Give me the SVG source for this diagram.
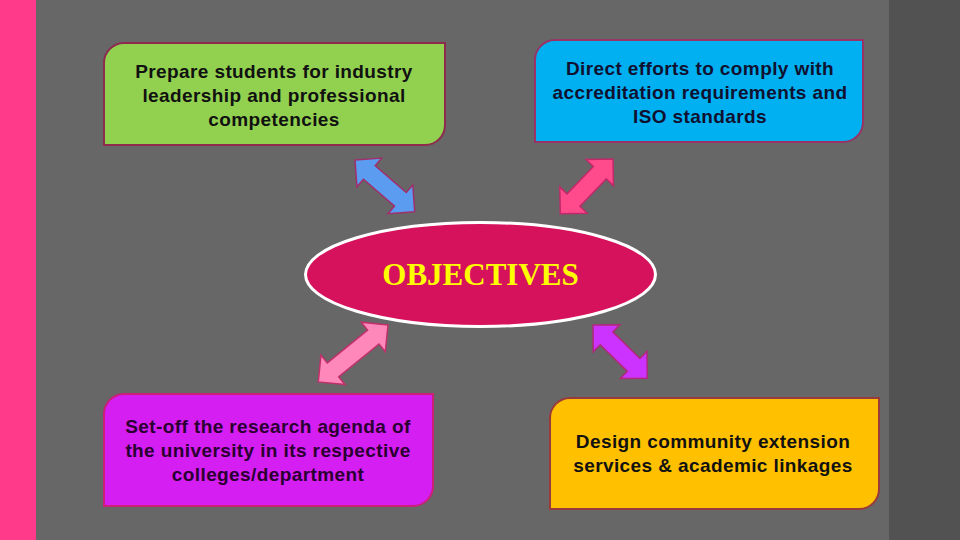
<svg xmlns="http://www.w3.org/2000/svg" width="960" height="540" viewBox="0 0 960 540">
<style>
.box{stroke-width:2}
.t{font-family:"Liberation Sans",Arial,sans-serif;font-weight:bold;font-size:19px;letter-spacing:0.4px;text-anchor:middle}
.arr{stroke-width:1.5;stroke-linejoin:miter}
</style>
<rect x="0" y="0" width="960" height="540" fill="#676767"/>
<rect x="0" y="0" width="36" height="540" fill="#ff3a8a"/>
<rect x="889" y="0" width="71" height="540" fill="#525252"/>

<g id="node-green">
<path class="box" d="M124,43 H445 V125 A20,20 0 0 1 425,145 H104 V63 A20,20 0 0 1 124,43 Z" fill="#92d050" stroke="#8e2a4e"/>
<text class="t" fill="#111" x="274" y="78">Prepare students for industry</text>
<text class="t" fill="#111" x="274" y="102">leadership and professional</text>
<text class="t" fill="#111" x="274" y="126">competencies</text>
</g>

<g id="node-blue">
<path class="box" d="M555,40 H863 V122 A20,20 0 0 1 843,142 H535 V60 A20,20 0 0 1 555,40 Z" fill="#00b0f0" stroke="#993366"/>
<text class="t" fill="#101030" x="700" y="75">Direct efforts to comply with</text>
<text class="t" fill="#101030" x="700" y="99">accreditation requirements and</text>
<text class="t" fill="#101030" x="700" y="123">ISO standards</text>
</g>

<g id="node-magenta">
<path class="box" d="M124,394 H433 V486 A20,20 0 0 1 413,506 H104 V414 A20,20 0 0 1 124,394 Z" fill="#d41ef2" stroke="#cc1f77"/>
<text class="t" fill="#2a0030" x="268" y="433">Set-off the research agenda of</text>
<text class="t" fill="#2a0030" x="268" y="457">the university in its respective</text>
<text class="t" fill="#2a0030" x="268" y="481">colleges/department</text>
</g>

<g id="node-yellow">
<path class="box" d="M570,398 H879 V489 A20,20 0 0 1 859,509 H550 V418 A20,20 0 0 1 570,398 Z" fill="#ffc000" stroke="#9a3a3a"/>
<text class="t" fill="#111" x="713" y="448">Design community extension</text>
<text class="t" fill="#111" x="713" y="472">services &amp; academic linkages</text>
</g>

<g id="node-objectives">
<ellipse cx="480.5" cy="274.5" rx="175" ry="52" fill="#d6125c" stroke="#ffffff" stroke-width="3"/>
<text x="480.5" y="285" font-family="'Liberation Serif','Times New Roman',serif" font-weight="bold" font-size="31" fill="#ffff00" text-anchor="middle">OBJECTIVES</text>
</g>

<g id="connectors">
<path class="arr" fill="#5b9bf0" stroke="#a0306a" transform="translate(355,160) rotate(40.9)" d="M0,0 L19,-19 L19,-9 L60,-9 L60,-19 L79,0 L60,19 L60,9 L19,9 L19,19 Z"/>
<path class="arr" fill="#ff4a8c" stroke="#c02a6a" transform="translate(613,159) rotate(133.9)" d="M0,0 L19,-19 L19,-9 L57,-9 L57,-19 L76,0 L57,19 L57,9 L19,9 L19,19 Z"/>
<path class="arr" fill="#ff88bb" stroke="#c0306a" transform="translate(388,325) rotate(140.8)" d="M0,0 L19,-19 L19,-9 L71,-9 L71,-19 L90,0 L71,19 L71,9 L19,9 L19,19 Z"/>
<path class="arr" fill="#cc33ff" stroke="#b02a7a" transform="translate(593,325) rotate(44.5)" d="M0,0 L19,-19 L19,-9 L57,-9 L57,-19 L76,0 L57,19 L57,9 L19,9 L19,19 Z"/>
</g>
</svg>
